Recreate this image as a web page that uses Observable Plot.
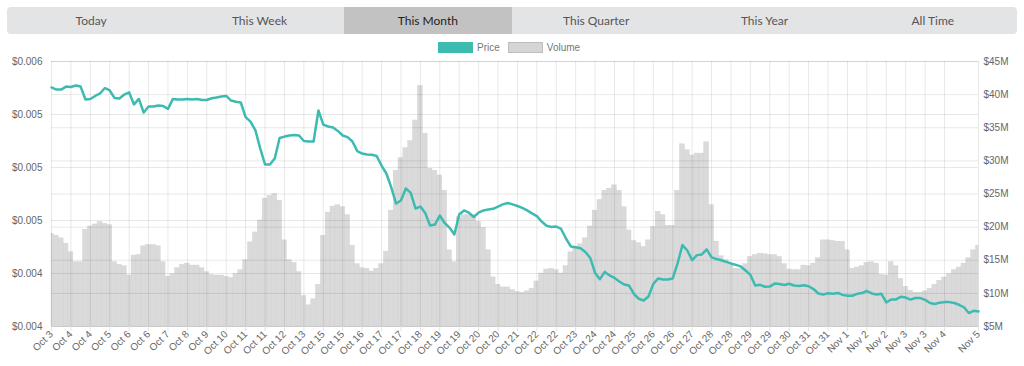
<!DOCTYPE html>
<html><head><meta charset="utf-8">
<script src="https://cdn.jsdelivr.net/npm/d3@7"></script>
<script src="https://cdn.jsdelivr.net/npm/@observablehq/plot@0.6"></script>
<style>
body{margin:0;background:#fff;width:1024px;height:366px;overflow:hidden;position:relative;font-family:"Liberation Sans",Arial,sans-serif}
#tabs{position:absolute;left:7px;top:7px;width:1010px;height:27px;background:#e3e4e5;border-radius:4px;display:flex;overflow:hidden}
#tabs div{flex:1;text-align:center;line-height:27px;font-family:Lato,sans-serif;font-size:12px;color:#555}
#tabs div.active{background:#c2c2c2;color:#222}
#legend{position:absolute;top:41px;left:438px;height:12px;display:flex;align-items:center;font-size:10px;color:#777}
#legend .sw{width:35px;height:11px;box-sizing:border-box;margin-right:4px}
#legend span{margin-right:8px}
#chart{position:absolute;left:0;top:55px}
</style></head>
<body>
<div id="tabs"></div>
<div id="legend"></div>
<div id="chart"></div>
<script>
const tabNames = ["Today","This Week","This Month","This Quarter","This Year","All Time"];
const activeTab = "This Month";
const seriesNames = ["Price","Volume"];
const seriesColors = ["#3dbbb1","#d5d5d5"];

// x tick labels (shown every 4th point, plus the last point)
const tickLabels = ["Oct 3","Oct 4","Oct 4","Oct 5","Oct 6","Oct 6","Oct 7","Oct 8","Oct 9","Oct 10",
"Oct 11","Oct 11","Oct 12","Oct 13","Oct 15","Oct 15","Oct 16","Oct 17","Oct 17","Oct 18",
"Oct 19","Oct 19","Oct 20","Oct 20","Oct 21","Oct 22","Oct 22","Oct 23","Oct 24","Oct 24",
"Oct 25","Oct 26","Oct 26","Oct 27","Oct 28","Oct 28","Oct 29","Oct 29","Oct 30","Oct 31",
"Oct 31","Nov 1","Nov 2","Nov 2","Nov 3","Nov 3","Nov 4","Nov 5"];

// price (USD)
const price = [0.005453,0.005441,0.005441,0.005458,0.005456,0.005464,0.005458,0.005385,0.005388,0.005405,
0.005419,0.005450,0.005436,0.005393,0.005391,0.005413,0.005425,0.005357,0.005388,0.005311,
0.005345,0.005345,0.005351,0.005348,0.005332,0.005388,0.005385,0.005385,0.005388,0.005385,
0.005388,0.005382,0.005382,0.005392,0.005396,0.005402,0.005405,0.005379,0.005372,0.005368,
0.005285,0.005260,0.005212,0.005108,0.005017,0.005017,0.005051,0.005167,0.005175,0.005181,
0.005184,0.005181,0.005150,0.005147,0.005147,0.005323,0.005243,0.005232,0.005226,0.005207,
0.005181,0.005172,0.005147,0.005093,0.005079,0.005074,0.005072,0.005065,0.005011,0.004966,
0.004887,0.004796,0.004813,0.004881,0.004858,0.004768,0.004779,0.004742,0.004672,0.004677,
0.004728,0.004686,0.004660,0.004621,0.004734,0.004757,0.004744,0.004720,0.004745,0.004757,
0.004762,0.004766,0.004779,0.004791,0.004799,0.004791,0.004782,0.004771,0.004757,0.004740,
0.004725,0.004694,0.004670,0.004663,0.004666,0.004652,0.004598,0.004553,0.004549,0.004543,
0.004522,0.004488,0.004403,0.004368,0.004409,0.004389,0.004375,0.004355,0.004338,0.004332,
0.004284,0.004257,0.004247,0.004270,0.004341,0.004372,0.004366,0.004366,0.004372,0.004457,
0.004561,0.004530,0.004476,0.004504,0.004508,0.004536,0.004491,0.004482,0.004475,0.004466,
0.004457,0.004449,0.004440,0.004417,0.004392,0.004332,0.004336,0.004325,0.004326,0.004343,
0.004340,0.004335,0.004342,0.004332,0.004329,0.004334,0.004328,0.004312,0.004287,0.004281,
0.004288,0.004286,0.004290,0.004279,0.004274,0.004274,0.004285,0.004289,0.004301,0.004287,
0.004281,0.004285,0.004236,0.004253,0.004253,0.004268,0.004264,0.004252,0.004261,0.004261,
0.004251,0.004233,0.004227,0.004235,0.004238,0.004238,0.004233,0.004223,0.004209,0.004176,
0.004189,0.004185];

// volume (millions USD)
const volume = [19.0,18.7,18.3,17.5,16.2,14.7,14.7,19.6,20.1,20.4,
20.8,20.5,20.3,14.7,14.3,14.1,12.7,15.7,15.8,17.1,
17.3,17.3,17.1,14.7,12.5,12.9,13.8,14.3,14.5,14.2,
14.2,13.8,13.2,12.8,12.7,12.7,12.5,12.3,12.9,13.5,
15.0,17.7,19.2,21.0,24.3,24.7,25.0,24.0,18.0,15.0,
14.6,13.2,9.6,8.2,9.1,11.3,18.7,22.2,23.1,23.3,
23.0,21.8,17.2,14.4,13.8,13.7,13.3,13.7,14.4,16.3,
22.5,28.5,30.4,31.9,33.0,36.1,41.3,34.1,28.8,28.5,
27.8,25.5,16.5,14.7,21.5,21.8,21.8,21.8,20.8,19.9,
16.5,12.4,11.3,10.9,10.9,10.5,10.2,10.1,10.3,10.7,
11.8,13.0,13.6,13.7,13.5,13.0,14.1,16.2,17.0,17.4,
18.3,20.1,22.5,24.1,25.5,25.8,26.3,25.5,23.0,19.5,
17.9,17.6,17.0,18.0,20.0,22.3,21.8,20.2,20.2,25.5,
32.5,31.6,30.8,31.1,31.1,32.8,23.3,17.8,15.6,15.0,
14.4,13.7,13.7,14.4,15.5,15.8,16.0,15.9,15.8,15.8,
15.5,14.4,13.6,13.5,13.5,14.2,14.1,14.5,15.3,18.0,
18.0,17.9,17.8,17.8,16.5,13.7,13.9,14.1,14.6,14.7,
14.5,12.8,12.7,14.7,14.1,12.2,11.0,10.4,10.1,10.1,
10.3,10.7,11.3,11.9,12.4,12.9,13.5,13.9,14.5,15.3,
16.5,17.2];

const priceTicks = [0.0041,0.0044,0.0047,0.0050,0.0053,0.0056];
const volumeTicks = [5,10,15,20,25,30,35,40,45];

// ---- header ----
const tabs = document.getElementById("tabs");
tabNames.forEach(t => {
  const d = document.createElement("div");
  d.textContent = t;
  if (t === activeTab) d.className = "active";
  tabs.appendChild(d);
});
const legend = document.getElementById("legend");
seriesNames.forEach((s, k) => {
  const sw = document.createElement("div");
  sw.className = "sw";
  sw.style.background = seriesColors[k];
  if (k === 1) sw.style.border = "1px solid #bdbdbd";
  legend.appendChild(sw);
  const sp = document.createElement("span");
  sp.textContent = s;
  legend.appendChild(sp);
});

// ---- chart ----
const n = price.length;
const idx = d3.range(n);
const tickIdx = tickLabels.map((_, k) => k === tickLabels.length - 1 ? n - 1 : k * 4);
const labelAt = new Map(tickIdx.map((t, k) => [t, tickLabels[k]]));
const v2p = d3.scaleLinear([5, 45], [0.0041, 0.0056]);
const volData = idx.map(i => ({i, v: volume[i]}));
const priceData = idx.map(i => ({i, p: price[i]}));
const grid = "rgba(0,0,0,0.09)";

const chart = Plot.plot({
  width: 1024,
  height: 311,
  marginTop: 6,
  marginBottom: 40,
  marginLeft: 51,
  marginRight: 46,
  style: {fontFamily: "'Liberation Sans', Arial, sans-serif", fontSize: "10px", color: "#666", background: "#fff"},
  x: {domain: [0, n - 1], axis: null, label: null},
  y: {domain: [0.0041, 0.0056], axis: null, label: null},
  marks: [
    Plot.rect(volData, {
      x1: d => Math.max(0, d.i - 0.5), x2: d => Math.min(n - 1, d.i + 0.5),
      y1: 0.0041, y2: d => v2p(d.v),
      fill: "#dadada", stroke: "#d0d0d0", strokeWidth: 0.4
    }),
    Plot.gridY(priceTicks, {stroke: grid, strokeOpacity: 1}),
    Plot.gridY(volumeTicks.map(v2p), {stroke: grid, strokeOpacity: 1}),
    Plot.gridX(tickIdx, {stroke: grid, strokeOpacity: 1}),
    Plot.lineY(priceData, {x: "i", y: "p", stroke: seriesColors[0], strokeWidth: 2.5, strokeLinejoin: "round"}),
    Plot.axisY(priceTicks, {anchor: "left", label: null, tickSize: 0, tickPadding: 9, tickFormat: d => "$" + d.toFixed(3), fill: "#666"}),
    Plot.axisY(volumeTicks.map(v2p), {anchor: "right", label: null, tickSize: 0, tickPadding: 5, tickFormat: d => "$" + Math.round(v2p.invert(d)) + "M", fill: "#666"}),
    Plot.axisX(tickIdx, {anchor: "bottom", label: null, tickSize: 5, tickPadding: 1, tickRotate: -45, stroke: "#e2e2e2", fill: "#666", tickFormat: d => labelAt.get(d)})
  ]
});
document.getElementById("chart").appendChild(chart);
</script>
</body></html>
